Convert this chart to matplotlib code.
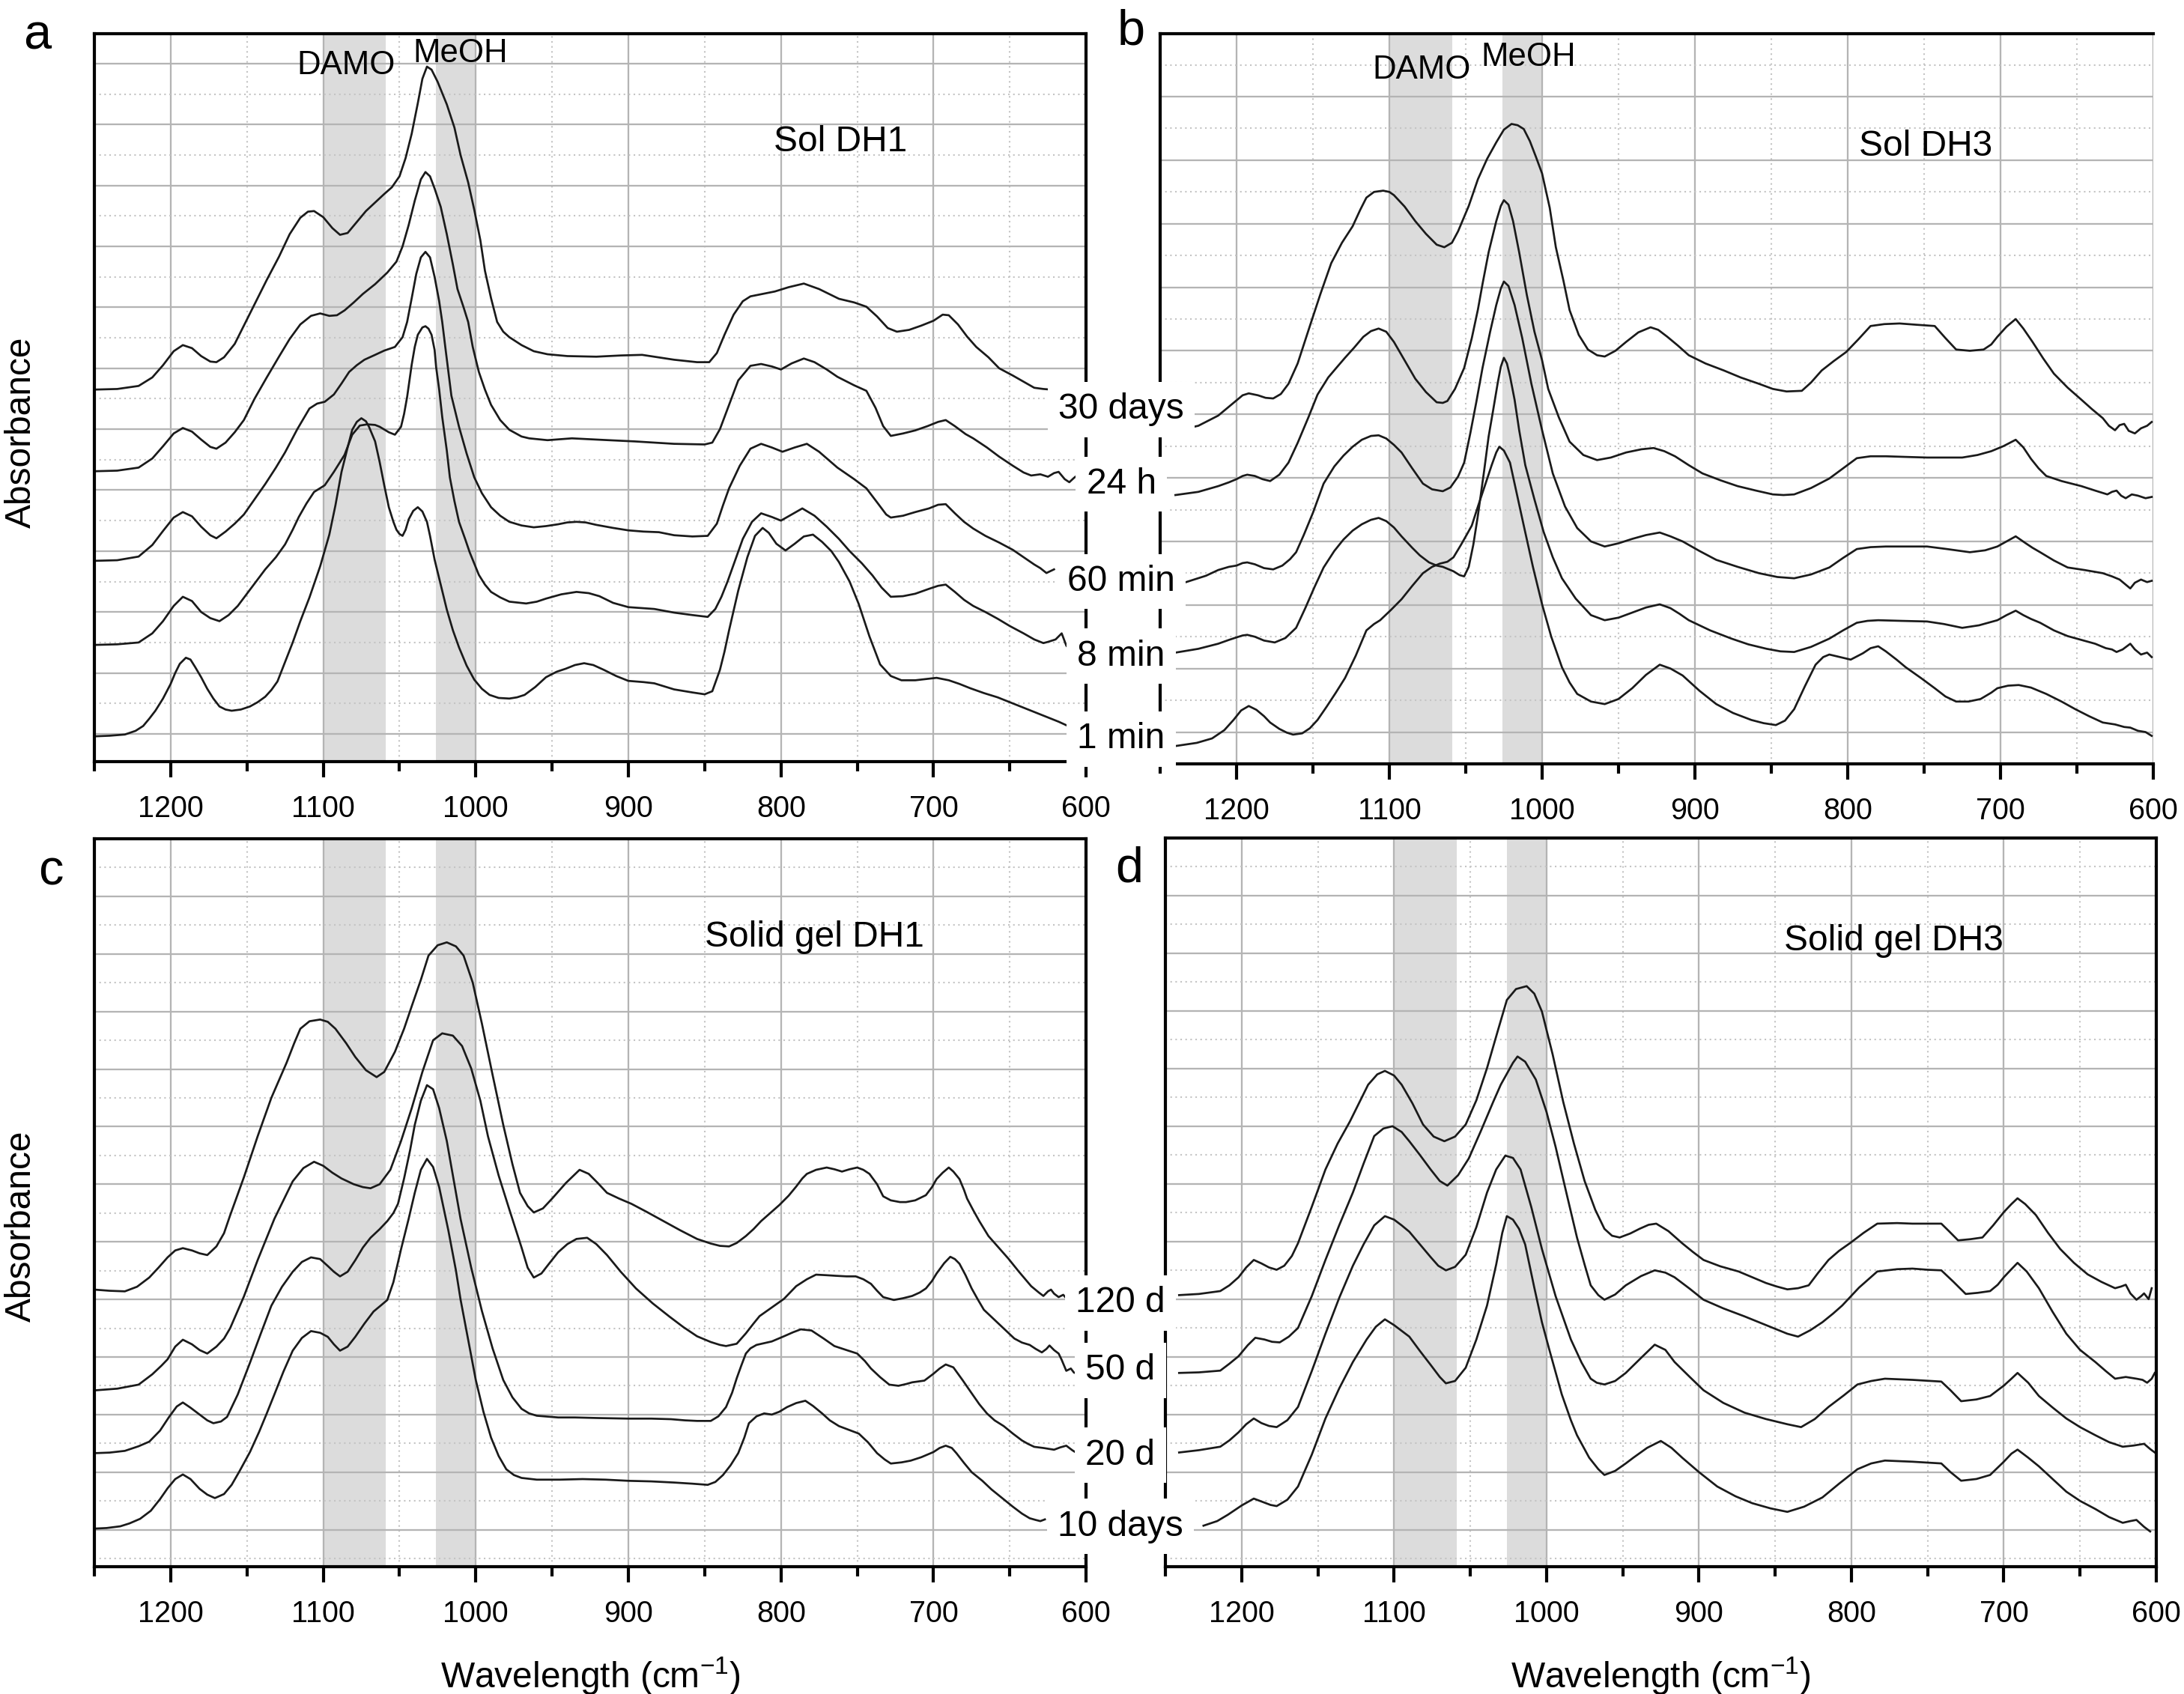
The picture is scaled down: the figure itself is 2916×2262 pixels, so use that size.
import matplotlib
matplotlib.use('Agg')
import matplotlib.pyplot as plt
from matplotlib.ticker import MultipleLocator

plt.rcParams['font.family'] = ['Liberation Sans', 'DejaVu Sans']
plt.rcParams['mathtext.fontset'] = 'custom'
plt.rcParams['mathtext.rm'] = 'Liberation Sans'
plt.rcParams['mathtext.it'] = 'Liberation Sans:italic'

# ---------------- panel a : Sol DH1 ----------------
a_30d_wn = [1250,1235,1221,1212,1205,1198,1192,1186,1180,1174,1170,1165,1158,1152,1145,1137,1129,1122,1115,1110,
            1106,1100,1094,1089,1084,1078,1072,1066,1060,1055,1050,1046,1042,1038,1035,1032,1029,1025,1019,1014,
            1010,1005,1001,997,994,990,986,982,978,970,962,953,940,921,905,891,870,855,847,842,
            837,831,825,820,812,804,795,785,775,762,752,744,737,730,724,716,708,700,694,690,
            684,678,672,664,657,648,641,634,628,623]
a_30d_abs = [5.65,5.66,5.71,5.85,6.05,6.28,6.38,6.33,6.20,6.11,6.10,6.18,6.40,6.70,7.05,7.45,7.83,8.20,8.47,8.57,
             8.58,8.48,8.30,8.19,8.22,8.40,8.58,8.72,8.86,8.97,9.15,9.45,9.85,10.35,10.75,10.95,10.90,10.70,10.33,9.95,
             9.50,9.05,8.60,8.10,7.60,7.15,6.76,6.60,6.51,6.38,6.28,6.23,6.20,6.19,6.21,6.22,6.14,6.10,6.10,6.25,
             6.55,6.88,7.10,7.18,7.22,7.26,7.33,7.39,7.30,7.14,7.08,7.01,6.85,6.66,6.60,6.63,6.70,6.78,6.88,6.87,
             6.72,6.52,6.35,6.18,6.00,5.88,5.78,5.68,5.66,5.65]

a_24h_wn = [1250,1235,1221,1212,1205,1198,1192,1186,1180,1174,1170,1164,1158,1152,1145,1137,1129,1122,1115,1108,
            1102,1096,1091,1086,1080,1074,1066,1058,1052,1048,1044,1040,1036,1033,1030,1027,1023,1019,1015,1012,
            1008,1005,1002,998,994,990,984,978,970,965,953,937,913,896,870,850,845,840,834,828,
            820,813,806,800,793,785,778,770,763,752,744,738,733,728,720,712,704,697,692,686,
            679,674,665,657,648,641,636,630,625,621,618,614,611,608,606]
a_24h_abs = [4.31,4.32,4.37,4.52,4.72,4.93,5.02,4.96,4.83,4.71,4.68,4.78,4.95,5.15,5.50,5.85,6.19,6.48,6.72,6.86,
             6.90,6.86,6.87,6.95,7.08,7.22,7.38,7.57,7.75,8.00,8.35,8.75,9.10,9.22,9.15,8.95,8.65,8.20,7.70,7.30,
             7.00,6.76,6.35,5.94,5.65,5.40,5.15,4.99,4.88,4.85,4.82,4.85,4.82,4.80,4.76,4.75,4.78,5.00,5.40,5.80,
             6.04,6.07,6.03,5.98,6.08,6.16,6.10,5.98,5.86,5.72,5.63,5.35,5.05,4.89,4.93,4.98,5.05,5.12,5.15,5.05,
             4.92,4.85,4.70,4.55,4.40,4.29,4.24,4.26,4.22,4.28,4.30,4.18,4.13,4.20,4.24]

a_60m_wn = [1250,1235,1221,1212,1205,1198,1192,1186,1180,1174,1170,1164,1158,1152,1145,1138,1131,1125,1117,1109,
            1104,1099,1093,1088,1083,1078,1073,1066,1060,1053,1048,1045,1042,1039,1036,1033,1030,1027,1024,1022,
            1020,1016,1011,1006,1001,996,990,984,978,970,962,954,946,940,934,928,921,910,900,890,
            880,870,858,848,842,838,834,827,820,813,806,799,791,783,775,763,752,744,737,731,
            728,720,712,703,697,692,686,680,674,666,657,648,641,634,630,626,621]
a_60m_abs = [2.84,2.85,2.91,3.10,3.33,3.55,3.64,3.57,3.40,3.26,3.21,3.32,3.45,3.60,3.85,4.10,4.37,4.62,5.00,5.34,
             5.42,5.45,5.57,5.75,5.94,6.05,6.14,6.22,6.29,6.35,6.51,6.76,7.15,7.55,7.82,7.91,7.82,7.50,7.10,6.76,
             6.35,5.55,5.04,4.60,4.21,3.95,3.72,3.58,3.48,3.42,3.39,3.41,3.44,3.47,3.48,3.47,3.43,3.38,3.34,3.32,
             3.31,3.26,3.24,3.25,3.45,3.75,4.03,4.40,4.68,4.76,4.70,4.63,4.70,4.76,4.63,4.37,4.18,4.03,3.80,3.60,
             3.55,3.58,3.64,3.70,3.76,3.77,3.62,3.48,3.37,3.25,3.14,3.02,2.90,2.78,2.72,2.64,2.70]

a_8m_wn = [1250,1235,1221,1212,1205,1198,1192,1186,1180,1174,1168,1162,1156,1150,1144,1138,1131,1125,1120,1116,
           1111,1106,1099,1093,1086,1081,1076,1071,1066,1063,1057,1053,1049,1047,1045,1042,1040,1038,1035,1033,
           1031,1029,1027,1026,1024,1022,1019,1017,1014,1011,1007,1004,998,994,990,984,978,967,960,954,
           944,934,926,919,910,900,883,870,858,848,843,839,835,830,825,819,813,806,800,793,
           786,778,770,762,755,747,740,734,728,720,712,703,697,692,686,680,674,666,658,650,
           641,634,628,625,620,616,613,608]
a_8m_abs = [1.46,1.47,1.50,1.65,1.85,2.10,2.25,2.18,2.00,1.90,1.85,1.95,2.10,2.30,2.50,2.70,2.90,3.11,3.35,3.56,
            3.78,3.97,4.08,4.30,4.58,4.91,5.06,5.08,5.07,5.04,4.95,4.91,5.04,5.25,5.53,6.06,6.35,6.55,6.67,6.69,
            6.65,6.55,6.30,6.02,5.65,5.20,4.65,4.21,3.82,3.48,3.20,2.98,2.61,2.45,2.33,2.24,2.17,2.14,2.17,2.22,
            2.29,2.33,2.31,2.26,2.15,2.08,2.05,1.99,1.95,1.92,2.05,2.25,2.50,2.85,3.20,3.48,3.62,3.56,3.50,3.60,
            3.70,3.58,3.40,3.20,3.00,2.80,2.60,2.40,2.25,2.26,2.30,2.38,2.43,2.45,2.33,2.20,2.10,2.00,1.89,1.77,
            1.65,1.55,1.49,1.51,1.55,1.65,1.45,1.30]

a_1m_wn = [1250,1240,1230,1223,1218,1214,1210,1205,1200,1197,1194,1190,1187,1184,1180,1176,1172,1168,1164,1160,
           1154,1148,1143,1138,1134,1130,1125,1120,1115,1109,1102,1096,1092,1088,1084,1081,1078,1075,1072,1070,
           1066,1063,1060,1057,1054,1052,1050,1048,1046,1044,1041,1038,1035,1032,1030,1027,1023,1019,1015,1011,
           1006,1001,996,991,985,978,973,968,961,954,947,941,935,929,923,916,908,900,890,883,
           870,858,850,845,840,837,834,828,822,817,812,808,803,797,791,785,779,773,767,762,
           755,749,742,735,728,721,712,705,698,690,683,676,667,658,650,641,633,625,618,611]
a_1m_abs = [-0.04,-0.03,-0.01,0.05,0.13,0.25,0.38,0.58,0.82,1.00,1.15,1.25,1.22,1.10,0.93,0.74,0.58,0.45,0.40,0.38,
            0.40,0.45,0.52,0.61,0.72,0.86,1.18,1.50,1.85,2.24,2.75,3.27,3.75,4.30,4.70,4.99,5.12,5.18,5.13,5.04,
            4.80,4.46,4.08,3.72,3.48,3.35,3.28,3.25,3.35,3.52,3.66,3.72,3.65,3.48,3.25,2.86,2.45,2.04,1.70,1.42,
            1.12,0.89,0.74,0.64,0.59,0.58,0.60,0.64,0.77,0.93,1.02,1.07,1.13,1.16,1.13,1.05,0.95,0.87,0.85,0.83,
            0.73,0.68,0.65,0.70,1.05,1.35,1.70,2.35,2.90,3.25,3.38,3.30,3.12,3.01,3.12,3.24,3.27,3.15,3.00,2.82,
            2.50,2.13,1.60,1.14,0.95,0.88,0.88,0.90,0.92,0.88,0.82,0.75,0.67,0.60,0.52,0.43,0.35,0.27,0.20,0.12]

# ---------------- panel b : Sol DH3 ----------------
b_30d_wn = [1240,1225,1212,1205,1200,1196,1192,1186,1181,1176,1171,1166,1160,1152,1145,1138,1131,1124,1119,1115,
            1110,1104,1100,1097,1090,1083,1076,1069,1064,1059,1055,1048,1042,1036,1030,1025,1020,1016,1012,1008,
            1004,1000,995,991,986,982,976,970,964,959,952,945,937,929,924,918,911,904,893,881,
            870,858,849,840,830,824,817,809,801,793,785,776,766,755,743,736,729,720,711,706,
            702,696,690,685,679,672,665,656,647,640,633,629,625,622,619,616,612,608,604,601]
b_30d_abs = [4.74,4.82,4.98,5.12,5.22,5.30,5.33,5.30,5.26,5.25,5.32,5.48,5.80,6.39,6.90,7.38,7.70,7.96,8.22,8.41,
             8.50,8.52,8.50,8.45,8.27,8.04,7.84,7.67,7.63,7.70,7.88,8.28,8.70,9.02,9.28,9.48,9.57,9.55,9.49,9.30,
             9.05,8.79,8.25,7.63,7.10,6.64,6.25,6.02,5.93,5.91,6.00,6.14,6.29,6.37,6.33,6.22,6.08,5.93,5.80,5.69,
             5.58,5.48,5.40,5.36,5.37,5.50,5.69,5.84,5.98,6.18,6.39,6.42,6.43,6.41,6.39,6.20,6.02,6.00,6.02,6.10,
             6.22,6.38,6.50,6.35,6.14,5.88,5.64,5.42,5.23,5.08,4.94,4.82,4.75,4.83,4.85,4.74,4.70,4.78,4.82,4.88]

b_24h_wn = [1240,1225,1212,1205,1200,1196,1193,1188,1183,1178,1172,1166,1160,1153,1147,1140,1134,1129,1123,1117,
            1112,1107,1102,1097,1090,1083,1076,1069,1065,1062,1057,1051,1046,1042,1039,1035,1030,1027,1025,1022,
            1019,1015,1010,1005,1000,996,989,982,973,964,955,945,935,927,920,913,904,895,883,872,
            860,849,842,835,824,812,803,794,785,775,762,748,737,725,715,706,698,690,685,680,
            675,670,660,647,638,630,627,624,621,618,614,610,605,601]
b_24h_abs = [3.73,3.78,3.87,3.93,3.98,4.03,4.05,4.03,3.98,3.95,4.05,4.24,4.55,4.95,5.31,5.58,5.75,5.89,6.05,6.22,
             6.31,6.35,6.30,6.14,5.85,5.56,5.35,5.19,5.18,5.21,5.40,5.73,6.20,6.65,7.05,7.55,8.04,8.28,8.37,8.30,
             8.04,7.55,6.88,6.30,5.85,5.40,4.95,4.57,4.36,4.28,4.32,4.40,4.45,4.47,4.42,4.34,4.20,4.07,3.96,3.87,
             3.80,3.74,3.73,3.74,3.84,3.99,4.15,4.31,4.34,4.34,4.33,4.32,4.32,4.32,4.36,4.42,4.50,4.60,4.48,4.30,
             4.15,4.03,3.95,3.87,3.80,3.74,3.78,3.80,3.72,3.68,3.74,3.72,3.68,3.70]

b_60m_wn = [1233,1220,1212,1205,1200,1196,1193,1188,1182,1176,1170,1165,1161,1156,1150,1143,1136,1130,1124,1118,
            1112,1107,1102,1097,1092,1085,1078,1072,1065,1060,1055,1051,1047,1043,1039,1034,1030,1027,1025,1022,
            1018,1013,1007,1000,993,985,977,968,959,950,941,932,923,916,908,897,886,872,858,846,
            835,824,812,803,794,785,775,762,748,735,720,710,702,696,690,684,679,674,665,656,
            645,633,627,622,618,615,612,608,604,601]
b_60m_abs = [2.36,2.46,2.55,2.60,2.62,2.66,2.67,2.64,2.58,2.56,2.62,2.72,2.83,3.10,3.45,3.91,4.18,4.35,4.49,4.60,
             4.66,4.67,4.62,4.52,4.40,4.15,3.91,3.82,3.79,3.85,4.02,4.24,4.70,5.20,5.73,6.30,6.72,6.98,7.09,7.02,
             6.72,6.20,5.48,4.75,4.07,3.55,3.21,3.00,2.92,2.97,3.04,3.10,3.14,3.08,3.00,2.85,2.71,2.60,2.50,2.44,
             2.42,2.48,2.59,2.74,2.88,2.91,2.92,2.92,2.92,2.88,2.83,2.86,2.92,3.00,3.08,2.98,2.90,2.83,2.70,2.59,
             2.55,2.50,2.45,2.40,2.32,2.26,2.35,2.40,2.36,2.38]

b_8m_wn = [1240,1225,1212,1205,1200,1196,1193,1188,1182,1175,1168,1161,1155,1149,1143,1136,1130,1124,1118,1112,
           1107,1102,1097,1092,1085,1080,1074,1069,1065,1058,1054,1051,1048,1045,1042,1038,1035,1032,1029,1027,
           1025,1023,1021,1018,1015,1011,1005,999,993,987,978,968,959,950,941,932,923,916,910,904,
           890,876,865,853,844,835,824,812,803,794,787,780,765,748,737,725,714,702,696,690,
           685,680,674,665,656,647,638,631,627,624,620,615,612,608,604,601]
b_8m_abs = [1.25,1.31,1.39,1.45,1.49,1.52,1.53,1.50,1.44,1.41,1.48,1.64,1.95,2.28,2.59,2.85,3.03,3.17,3.27,3.34,
            3.37,3.32,3.22,3.08,2.90,2.78,2.67,2.62,2.60,2.53,2.47,2.45,2.60,2.95,3.41,4.10,4.65,5.07,5.50,5.75,
            5.89,5.80,5.60,5.23,4.75,4.20,3.66,3.15,2.75,2.42,2.10,1.84,1.76,1.80,1.88,1.96,2.01,1.95,1.86,1.76,
            1.60,1.47,1.38,1.31,1.27,1.26,1.34,1.47,1.60,1.72,1.75,1.76,1.75,1.74,1.70,1.64,1.68,1.76,1.84,1.91,
            1.84,1.78,1.72,1.60,1.51,1.45,1.39,1.32,1.30,1.26,1.30,1.39,1.30,1.22,1.25,1.18]

b_1m_wn = [1240,1226,1216,1208,1202,1197,1192,1187,1182,1178,1172,1167,1163,1157,1152,1147,1141,1135,1129,1122,
           1115,1110,1106,1099,1092,1085,1078,1072,1067,1062,1058,1053,1049,1046,1042,1037,1033,1030,1028,1025,
           1021,1017,1012,1006,1000,994,987,982,977,968,959,950,941,932,923,916,908,897,886,875,
           863,855,847,841,835,828,821,816,812,805,798,790,785,780,775,768,762,752,743,736,
           729,721,713,706,702,695,688,680,670,660,651,642,633,625,619,615,610,605,601]
b_1m_abs = [-0.22,-0.17,-0.10,0.03,0.19,0.34,0.41,0.35,0.25,0.15,0.05,-0.01,-0.04,-0.02,0.06,0.19,0.40,0.62,0.85,1.20,
            1.60,1.70,1.76,1.92,2.09,2.30,2.50,2.60,2.65,2.68,2.75,2.95,3.12,3.25,3.55,3.91,4.20,4.40,4.49,4.43,
            4.24,3.80,3.25,2.60,2.01,1.50,1.02,0.78,0.60,0.48,0.44,0.52,0.69,0.90,1.06,1.00,0.89,0.65,0.44,0.30,
            0.19,0.14,0.11,0.18,0.36,0.72,1.06,1.18,1.22,1.18,1.14,1.24,1.32,1.35,1.27,1.14,1.02,0.85,0.69,0.56,
            0.48,0.48,0.52,0.62,0.69,0.73,0.74,0.70,0.60,0.48,0.36,0.25,0.15,0.12,0.08,0.07,0.02,0.00,-0.06]

# ---------------- panel c : Solid gel DH1 ----------------
c_120d_wn = [1250,1240,1230,1222,1214,1208,1202,1197,1192,1186,1181,1176,1170,1165,1161,1152,1143,1134,1124,1119,
             1115,1109,1102,1097,1092,1085,1079,1072,1065,1060,1053,1047,1042,1036,1031,1025,1019,1013,1008,1002,
             996,989,982,976,971,966,962,956,950,941,932,926,920,914,906,898,888,877,866,855,
             846,840,834,829,823,818,813,807,801,795,790,786,783,777,770,765,760,755,750,746,
             742,737,733,728,722,718,712,705,701,698,694,690,687,683,680,678,674,670,664,658,
             651,644,636,631,628,625,623,621,618,615,613,611,609]
c_120d_abs = [4.17,4.15,4.14,4.22,4.38,4.55,4.73,4.85,4.89,4.85,4.80,4.77,4.92,5.15,5.46,6.12,6.83,7.50,8.11,8.45,
              8.70,8.83,8.86,8.82,8.70,8.45,8.21,7.98,7.86,7.95,8.30,8.70,9.09,9.55,9.97,10.15,10.20,10.13,9.97,9.50,
              8.79,7.90,7.03,6.35,5.85,5.62,5.51,5.58,5.75,6.02,6.25,6.18,6.02,5.85,5.75,5.66,5.52,5.36,5.20,5.05,
              4.97,4.93,4.92,4.98,5.10,5.22,5.36,5.50,5.64,5.80,5.96,6.10,6.18,6.25,6.29,6.26,6.22,6.26,6.29,6.25,
              6.18,6.00,5.79,5.72,5.69,5.69,5.72,5.81,5.95,6.09,6.20,6.29,6.22,6.09,5.90,5.75,5.55,5.36,5.10,4.92,
              4.71,4.48,4.23,4.12,4.06,4.14,4.17,4.10,4.04,4.08,4.02,3.95,3.99]

c_50d_wn = [1250,1235,1221,1212,1206,1202,1197,1192,1186,1181,1176,1170,1165,1161,1152,1143,1132,1120,1113,1106,
            1100,1094,1088,1080,1074,1069,1063,1056,1049,1042,1035,1028,1022,1015,1009,1003,997,992,985,978,
            970,966,962,957,952,946,940,934,927,921,914,905,895,884,873,864,855,846,840,836,
            829,823,818,814,806,798,790,783,777,770,764,757,751,746,741,737,733,726,720,714,
            709,705,701,698,693,689,686,683,679,675,671,667,663,659,653,647,642,637,633,629,
            626,624,621,618,616,613,610,608,606]
c_50d_abs = [2.42,2.45,2.52,2.70,2.85,2.96,3.18,3.30,3.22,3.12,3.06,3.18,3.32,3.50,4.05,4.68,5.40,6.05,6.28,6.39,
             6.32,6.20,6.10,6.00,5.95,5.93,6.00,6.25,6.75,7.32,7.95,8.50,8.62,8.58,8.40,8.01,7.45,6.83,6.15,5.56,
             4.90,4.55,4.38,4.45,4.62,4.82,4.96,5.05,5.07,4.96,4.77,4.48,4.19,3.93,3.70,3.52,3.36,3.26,3.21,3.19,
             3.23,3.41,3.58,3.71,3.86,4.01,4.23,4.35,4.43,4.42,4.41,4.40,4.40,4.35,4.27,4.15,4.04,3.99,4.02,4.06,
             4.12,4.19,4.32,4.45,4.63,4.74,4.70,4.62,4.42,4.19,4.00,3.82,3.72,3.62,3.47,3.32,3.25,3.21,3.14,3.08,
             3.14,3.20,3.12,3.06,2.95,2.76,2.80,2.73,2.71]

c_20d_wn = [1250,1240,1230,1221,1214,1207,1201,1196,1192,1187,1181,1176,1172,1167,1163,1156,1148,1141,1134,1127,
            1120,1114,1108,1102,1097,1093,1089,1084,1079,1074,1069,1063,1058,1054,1051,1047,1043,1040,1036,1032,
            1028,1024,1019,1015,1010,1003,996,989,982,976,970,965,960,946,935,920,900,885,872,863,
            855,846,841,836,832,829,826,823,820,816,811,806,798,792,787,780,772,765,757,750,
            745,741,735,729,723,718,714,706,700,696,692,687,681,675,670,665,660,654,648,642,
            638,634,628,621,617,613,609,606]
c_20d_abs = [1.33,1.34,1.37,1.45,1.53,1.72,1.96,2.14,2.21,2.12,2.00,1.90,1.85,1.88,1.96,2.35,2.90,3.40,3.89,4.22,
             4.48,4.65,4.73,4.70,4.58,4.48,4.40,4.48,4.68,4.90,5.07,5.22,5.36,5.50,5.66,6.10,6.60,7.03,7.45,7.72,
             7.65,7.32,6.75,6.15,5.40,4.55,3.80,3.15,2.60,2.30,2.10,2.02,1.98,1.95,1.95,1.94,1.93,1.93,1.92,1.90,
             1.89,1.89,1.97,2.13,2.38,2.63,2.85,3.06,3.15,3.21,3.24,3.27,3.36,3.43,3.48,3.46,3.32,3.19,3.12,3.06,
             2.93,2.80,2.65,2.52,2.50,2.53,2.56,2.59,2.71,2.80,2.87,2.82,2.60,2.37,2.18,2.02,1.90,1.80,1.67,1.55,
             1.49,1.44,1.42,1.39,1.43,1.46,1.38,1.33]

c_10d_wn = [1250,1242,1233,1227,1220,1213,1207,1202,1197,1192,1187,1181,1176,1171,1165,1160,1155,1148,1142,1137,
            1132,1126,1120,1114,1108,1102,1097,1093,1089,1084,1079,1073,1067,1062,1058,1054,1049,1044,1040,1036,
            1032,1028,1024,1018,1013,1010,1005,1000,995,990,985,980,975,970,960,945,930,915,900,885,
            870,858,848,843,838,833,828,824,821,816,811,806,801,796,790,784,779,773,768,762,
            755,749,743,737,732,728,721,715,708,700,696,692,688,685,680,675,668,662,655,648,
            642,637,633,630,627]
c_10d_abs = [0.02,0.03,0.06,0.11,0.19,0.33,0.53,0.72,0.88,0.96,0.88,0.71,0.61,0.55,0.62,0.78,1.01,1.35,1.70,2.02,
             2.35,2.75,3.11,3.33,3.45,3.42,3.35,3.22,3.11,3.18,3.35,3.58,3.79,3.90,3.99,4.30,4.87,5.40,5.85,6.25,
             6.44,6.30,5.95,5.20,4.50,4.00,3.30,2.60,2.05,1.60,1.28,1.05,0.95,0.90,0.87,0.87,0.88,0.87,0.85,0.84,
             0.82,0.80,0.78,0.83,0.95,1.12,1.33,1.60,1.85,1.97,2.02,2.00,2.05,2.13,2.20,2.24,2.15,2.02,1.90,1.80,
             1.73,1.67,1.52,1.33,1.22,1.15,1.17,1.20,1.26,1.35,1.42,1.46,1.42,1.33,1.16,1.00,0.85,0.70,0.55,0.40,
             0.28,0.20,0.17,0.15,0.18]

# ---------------- panel d : Solid gel DH3 ----------------
d_120d_wn = [1241,1228,1214,1208,1202,1197,1192,1187,1182,1177,1172,1167,1163,1154,1145,1137,1129,1123,1117,1111,
             1106,1100,1095,1088,1081,1074,1067,1060,1053,1046,1039,1032,1026,1020,1013,1008,1003,996,989,982,
             975,968,962,957,952,945,939,933,928,920,911,904,897,886,874,865,856,849,842,835,
             828,822,815,808,801,792,783,770,760,750,741,736,730,722,714,707,700,695,691,686,
             679,671,663,654,645,636,627,623,620,617,613,610,608,605,603]
d_120d_abs = [4.07,4.09,4.14,4.24,4.38,4.55,4.68,4.62,4.55,4.51,4.58,4.75,4.97,5.60,6.25,6.70,7.08,7.40,7.72,7.90,
              7.96,7.88,7.72,7.40,7.03,6.82,6.74,6.82,7.03,7.45,8.01,8.65,9.19,9.38,9.43,9.30,8.99,8.25,7.42,6.70,
              6.05,5.55,5.22,5.10,5.07,5.14,5.22,5.29,5.31,5.18,4.97,4.82,4.68,4.57,4.48,4.38,4.28,4.22,4.17,4.19,
              4.24,4.45,4.68,4.84,4.97,5.15,5.31,5.32,5.31,5.31,5.31,5.18,5.02,5.04,5.07,5.28,5.51,5.65,5.75,5.65,
              5.46,5.15,4.87,4.63,4.43,4.30,4.19,4.22,4.25,4.10,3.99,4.05,4.10,4.00,4.19]

d_50d_wn = [1241,1228,1214,1208,1202,1196,1191,1185,1180,1175,1169,1163,1154,1145,1136,1127,1120,1113,1107,1101,
            1095,1090,1083,1076,1070,1065,1058,1051,1043,1035,1030,1026,1022,1019,1014,1007,1000,994,987,980,
            975,971,966,962,955,948,938,929,922,916,906,897,884,870,856,842,835,827,819,812,
            806,795,783,770,760,750,741,733,725,717,709,704,700,695,691,685,677,668,659,650,
            640,633,627,620,613,609,606,603,601]
d_50d_abs = [2.72,2.73,2.76,2.88,3.01,3.20,3.33,3.30,3.26,3.25,3.35,3.50,4.05,4.68,5.28,5.85,6.35,6.83,6.96,7.00,
             6.90,6.74,6.50,6.25,6.05,5.97,6.15,6.44,6.92,7.42,7.72,7.91,8.10,8.21,8.12,7.81,7.25,6.64,5.85,5.07,
             4.60,4.24,4.07,3.99,4.08,4.24,4.40,4.50,4.46,4.38,4.18,3.99,3.84,3.70,3.55,3.40,3.35,3.46,3.60,3.75,
             3.89,4.20,4.48,4.52,4.53,4.51,4.50,4.30,4.09,4.11,4.14,4.25,4.38,4.52,4.63,4.48,4.19,3.78,3.40,3.12,
             2.91,2.75,2.62,2.65,2.62,2.60,2.55,2.62,2.72]

d_20d_wn = [1241,1228,1214,1208,1202,1197,1192,1187,1182,1177,1170,1163,1154,1145,1136,1127,1120,1113,1106,1100,
            1095,1090,1083,1076,1071,1066,1060,1053,1046,1039,1033,1027,1022,1017,1010,1003,994,984,977,971,
            967,962,955,948,938,929,922,916,906,897,884,870,856,842,833,824,815,805,796,787,
            778,760,741,735,728,718,709,700,695,691,684,677,668,659,650,640,631,622,615,608,
            604,601]
d_20d_abs = [1.34,1.38,1.44,1.55,1.69,1.83,1.93,1.85,1.80,1.78,1.90,2.13,2.75,3.40,4.02,4.58,4.95,5.28,5.44,5.38,
             5.28,5.17,4.95,4.73,4.58,4.50,4.56,4.77,5.25,5.85,6.25,6.49,6.45,6.25,5.60,4.87,4.05,3.30,2.90,2.62,
             2.55,2.52,2.58,2.72,2.98,3.21,3.12,2.91,2.65,2.42,2.20,2.03,1.92,1.83,1.78,1.92,2.13,2.33,2.52,2.58,
             2.62,2.60,2.57,2.42,2.23,2.26,2.32,2.50,2.62,2.72,2.55,2.32,2.12,1.93,1.78,1.64,1.52,1.44,1.46,1.49,
             1.40,1.34]

d_10d_wn = [1225,1216,1209,1200,1192,1186,1181,1177,1170,1163,1154,1145,1136,1127,1118,1112,1106,1100,1095,1090,
            1083,1076,1070,1066,1060,1053,1046,1039,1033,1029,1026,1022,1018,1014,1008,1003,998,990,984,980,
            972,966,962,955,948,943,934,925,918,911,900,888,876,865,853,842,831,819,808,796,
            787,778,760,741,735,728,718,709,700,695,691,684,677,668,659,650,640,631,622,617,
            613,608,604]
d_10d_abs = [0.07,0.15,0.26,0.42,0.54,0.48,0.43,0.41,0.52,0.75,1.30,1.93,2.45,2.91,3.30,3.52,3.65,3.55,3.45,3.35,
             3.10,2.86,2.65,2.54,2.58,2.81,3.30,3.89,4.60,5.15,5.44,5.38,5.22,4.95,4.20,3.60,3.11,2.35,1.90,1.64,
             1.25,1.05,0.95,1.02,1.15,1.25,1.42,1.54,1.42,1.25,1.00,0.75,0.58,0.46,0.37,0.31,0.40,0.56,0.80,1.05,
             1.15,1.20,1.18,1.15,1.00,0.85,0.88,0.95,1.18,1.32,1.39,1.25,1.10,0.88,0.66,0.50,0.36,0.22,0.12,0.15,
             0.17,0.05,-0.03]

# labels and annotations
sol_labels = ['30 days', '24 h', '60 min', '8 min', '1 min']
gel_labels = ['120 d', '50 d', '20 d', '10 days']
panel_titles = ['Sol DH1', 'Sol DH3', 'Solid gel DH1', 'Solid gel DH3']
panel_letters = ['a', 'b', 'c', 'd']
damo_band = (1100, 1059)
meoh_band = (1026, 1000)

fig = plt.figure(figsize=(9.72, 7.54), dpi=300)

# [left, bottom, width, height], ylim, title position (wn, abs)
panels = [
    dict(rect=[0.0432, 0.5504, 0.4541, 0.4297], ylim=(-0.455, 11.49), title_xy=(761, 9.72),
         curves=[(a_30d_wn, a_30d_abs), (a_24h_wn, a_24h_abs), (a_60m_wn, a_60m_abs),
                 (a_8m_wn, a_8m_abs), (a_1m_wn, a_1m_abs)],
         damo_xy=(1085, 10.97), meoh_xy=(1010, 11.17), right=True),
    dict(rect=[0.5312, 0.5491, 0.4547, 0.4310], ylim=(-0.5, 10.99), title_xy=(749, 9.22),
         curves=[(b_30d_wn, b_30d_abs), (b_24h_wn, b_24h_abs), (b_60m_wn, b_60m_abs),
                 (b_8m_wn, b_8m_abs), (b_1m_wn, b_1m_abs)],
         damo_xy=(1079, 10.42), meoh_xy=(1009, 10.62), right=False),
    dict(rect=[0.0432, 0.0752, 0.4541, 0.4297], ylim=(-0.64, 12.0), title_xy=(778, 10.29),
         curves=[(c_120d_wn, c_120d_abs), (c_50d_wn, c_50d_abs), (c_20d_wn, c_20d_abs),
                 (c_10d_wn, c_10d_abs)],
         damo_xy=None, meoh_xy=None, right=True),
    dict(rect=[0.5336, 0.0752, 0.4537, 0.4301], ylim=(-0.64, 12.0), title_xy=(772, 10.22),
         curves=[(d_120d_wn, d_120d_abs), (d_50d_wn, d_50d_abs), (d_20d_wn, d_20d_abs),
                 (d_10d_wn, d_10d_abs)],
         damo_xy=None, meoh_xy=None, right=True),
]

for i, p in enumerate(panels):
    ax = fig.add_axes(p['rect'])
    ax.set_xlim(1250, 600)
    ax.set_ylim(*p['ylim'])
    ax.set_axisbelow(True)

    ax.axvspan(damo_band[1], damo_band[0], color='#dcdcdc', lw=0, zorder=0.2)
    ax.axvspan(meoh_band[1], meoh_band[0], color='#dcdcdc', lw=0, zorder=0.2)

    for wn, ab in p['curves']:
        ax.plot(wn, ab, color='#1a1a1a', lw=0.65, zorder=2, solid_joinstyle='round')

    ax.xaxis.set_major_locator(MultipleLocator(100))
    ax.xaxis.set_minor_locator(MultipleLocator(50))
    ax.yaxis.set_major_locator(MultipleLocator(1))
    ax.yaxis.set_minor_locator(MultipleLocator(0.5))
    ax.grid(which='major', color='#b4b4b4', lw=0.55, ls='-')
    ax.grid(which='minor', color='#c4c4c4', lw=0.5, ls=(0, (1, 2.2)))

    ax.tick_params(axis='x', which='major', direction='out', length=5, width=1.0, pad=5.5, labelsize=9.5)
    ax.tick_params(axis='x', which='minor', direction='out', length=3, width=1.0)
    ax.tick_params(axis='y', which='both', length=0, labelleft=False)
    ax.tick_params(axis='x', which='both', top=False)

    for s in ax.spines.values():
        s.set_linewidth(1.0)
    if not p['right']:
        ax.spines['right'].set_visible(False)

    ax.text(p['title_xy'][0], p['title_xy'][1], panel_titles[i], fontsize=11.5, ha='center', va='center')
    if p['damo_xy'] is not None:
        ax.text(p['damo_xy'][0], p['damo_xy'][1], 'DAMO', fontsize=10.5, ha='center', va='center')
        ax.text(p['meoh_xy'][0], p['meoh_xy'][1], 'MeOH', fontsize=10.5, ha='center', va='center')

    if i >= 2:
        ax.set_xlabel(r'Wavelength (cm$^{-1}$)', fontsize=11.5, labelpad=9)

# panel letters
letter_pos = [(0.0170, 0.9785), (0.5180, 0.9810), (0.0233, 0.4850), (0.5170, 0.4870)]
for letter, (x, y) in zip(panel_letters, letter_pos):
    fig.text(x, y, letter, fontsize=16, ha='center', va='center')

# y labels
fig.text(0.0096, 0.745, 'Absorbance', rotation=90, fontsize=11.5, ha='center', va='center')
fig.text(0.0096, 0.276, 'Absorbance', rotation=90, fontsize=11.5, ha='center', va='center')

# time labels between the panels
sol_label_y = [0.7582, 0.7142, 0.6567, 0.6127, 0.5637]
gel_label_y = [0.2308, 0.1910, 0.1410, 0.0990]
box = dict(boxstyle='square,pad=0.3', fc='white', ec='none')
for lab, y in zip(sol_labels, sol_label_y):
    fig.text(0.5134, y, lab, fontsize=11.5, ha='center', va='center', bbox=box, zorder=10)
for lab, y in zip(gel_labels, gel_label_y):
    fig.text(0.5130, y, lab, fontsize=11.5, ha='center', va='center', bbox=box, zorder=10)

fig.savefig('out.png', dpi=300)
